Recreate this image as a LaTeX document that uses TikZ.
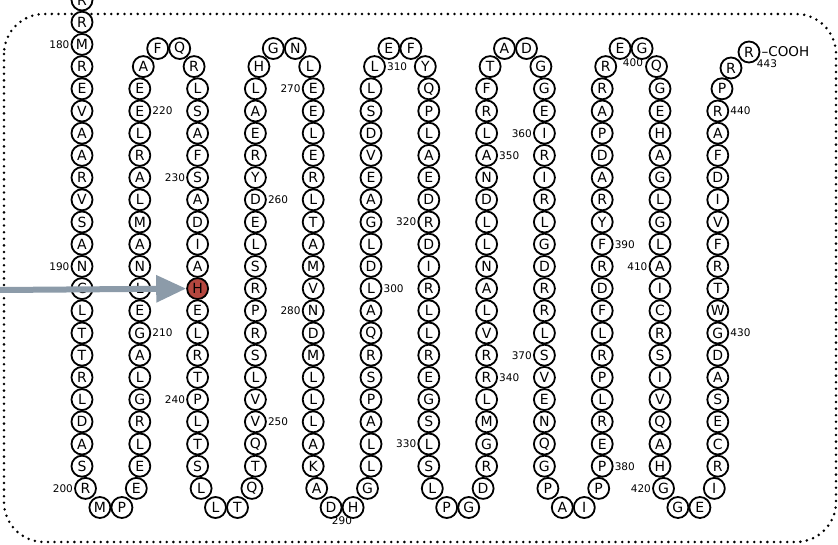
\documentclass[tikz,border=0pt]{standalone}
\usepackage{fontspec}
\setmainfont{DejaVu Sans}
\usetikzlibrary{arrows.meta}
\definecolor{arrowgray}{HTML}{8C9BA9}
\definecolor{hred}{HTML}{B5473F}
\tikzset{
  res/.style={circle,draw=black,line width=1.8pt,minimum size=21pt,inner sep=0pt,fill=white,
    font=\fontsize{14}{14}\selectfont},
  hres/.style={res,fill=hred},
  lab/.style={inner sep=1pt,font=\fontsize{10.5}{11}\selectfont},
  arr/.style={draw=arrowgray,line width=6pt,-{Triangle[length=30pt,width=26pt]}},
  frame/.style={line width=2.8pt,line cap=round,dash pattern=on 0pt off 6.6pt,rounded corners=40pt}
}
\newcommand\colDown[4]{\foreach \L [count=\i from 0] in {#4}{%
  \pgfmathtruncatemacro\nn{#3+\i}\pgfmathsetmacro\yy{22.2*(#2+\i)}%
  \node[res] (r\nn) at (#1,\yy) {\L};}}
\newcommand\colUp[4]{\foreach \L [count=\i from 0] in {#4}{%
  \pgfmathtruncatemacro\nn{#3+\i}\pgfmathsetmacro\yy{22.2*(#2-\i)}%
  \node[res] (r\nn) at (#1,\yy) {\L};}}
\newcommand\turnBot[6]{%
  \pgfmathtruncatemacro\na{#2}\pgfmathtruncatemacro\nb{#2+1}%
  \pgfmathtruncatemacro\nc{#2+2}\pgfmathtruncatemacro\nd{#2+3}%
  \node[res] (r\na) at ({#1+3.5},488.4) {#3};
  \node[res] (r\nb) at ({#1+17.9},507.5) {#4};
  \node[res] (r\nc) at ({#1+39.9},507.5) {#5};
  \node[res] (r\nd) at ({#1+54.3},488.4) {#6};}
\newcommand\turnTop[6]{%
  \pgfmathtruncatemacro\na{#2}\pgfmathtruncatemacro\nb{#2+1}%
  \pgfmathtruncatemacro\nc{#2+2}\pgfmathtruncatemacro\nd{#2+3}%
  \node[res] (r\na) at ({#1+3.5},66.6) {#3};
  \node[res] (r\nb) at ({#1+17.9},48.5) {#4};
  \node[res] (r\nc) at ({#1+39.9},48.5) {#5};
  \node[res] (r\nd) at ({#1+54.3},66.6) {#6};}
\begin{document}
\begin{tikzpicture}[x=1pt,y=-1pt]
\useasboundingbox (0,0) rectangle (838,545);
\clip (0,0) rectangle (838,545);
\draw[frame] (4,14) rectangle (836,542);
% columns
\colDown{82}{0}{178}{R,R,M,R,E,V,A,A,R,V,S,A,N,C,L,T,T,R,L,D,A,S}
\turnBot{82}{200}{R}{M}{P}{E}
\colUp{139.8}{21}{204}{E,L,R,G,L,A,G,E,L,N,A,M,L,A,R,L,E,E}
\turnTop{139.8}{222}{A}{F}{Q}{R}
\colDown{197.6}{4}{226}{L,S,A,F,S,A,D,I,A}
\node[hres] (r235) at (197.6,288.6) {H};
\colDown{197.6}{14}{236}{E,L,R,T,P,L,T,S}
\turnBot{197.6}{244}{L}{L}{T}{Q}
\colUp{255.4}{21}{248}{T,Q,V,V,L,S,R,P,R,S,L,E,D,Y,R,E,A,L}
\turnTop{255.4}{266}{H}{G}{N}{L}
\colDown{313.2}{4}{270}{E,E,L,E,R,L,T,A,M,V,N,D,M,L,L,L,A,K}
\turnBot{313.2}{288}{A}{D}{H}{G}
\colUp{371}{21}{292}{L,L,A,P,S,R,Q,A,L,D,L,G,A,E,V,D,S,L}
\turnTop{371}{310}{L}{E}{F}{Y}
\colDown{428.8}{4}{314}{Q,P,L,A,E,D,R,D,I,R,L,L,R,E,G,S,L,S}
\turnBot{428.8}{332}{L}{P}{G}{D}
\colUp{486.6}{21}{336}{R,G,M,L,R,R,V,L,A,N,L,L,D,N,A,L,R,F}
\turnTop{486.6}{354}{T}{A}{D}{G}
\colDown{544.4}{4}{358}{G,E,I,R,I,R,L,G,D,R,R,L,S,V,E,N,Q,G}
\turnBot{544.4}{376}{P}{A}{I}{P}
\colUp{602.2}{21}{380}{P,E,R,L,P,R,L,F,D,R,F,Y,R,A,D,P,A,R}
\turnTop{602.2}{398}{R}{E}{G}{Q}
\colDown{660}{4}{402}{G,E,H,A,G,L,G,L,A,I,C,R,S,I,V,Q,A,H}
\turnBot{660}{420}{G}{G}{E}{I}
\colUp{717.8}{21}{424}{R,C,E,S,A,D,G,W,T,R,F,V,I,D,F,A,R}
\node[res] (r441) at (722,88.8) {P};
\node[res] (r442) at (731,68) {R};
\node[res] (r443) at (749,52) {R};
\node[anchor=west,inner sep=1pt,font=\fontsize{13.5}{14}\selectfont] (cooh) at (r443.east) {–COOH};
% labels left
\foreach \n in {180,190,200,230,240,270,280,320,330,360,370,410,420}
  \node[lab,anchor=east] (l\n) at (r\n.west) {\n};
% labels right
\foreach \n in {210,220,250,260,300,310,340,350,380,390,430,440}
  \node[lab,anchor=west] (l\n) at (r\n.east) {\n};
\node[lab] (l290) at (342,521) {290};
\node[lab] (l400) at (633,63) {400};
\node[lab] (l443) at (767,64) {443};
% arrow
\coordinate (astart) at (0,290);
\draw[arr] (astart) -- (r235.west);
\end{tikzpicture}
\end{document}
